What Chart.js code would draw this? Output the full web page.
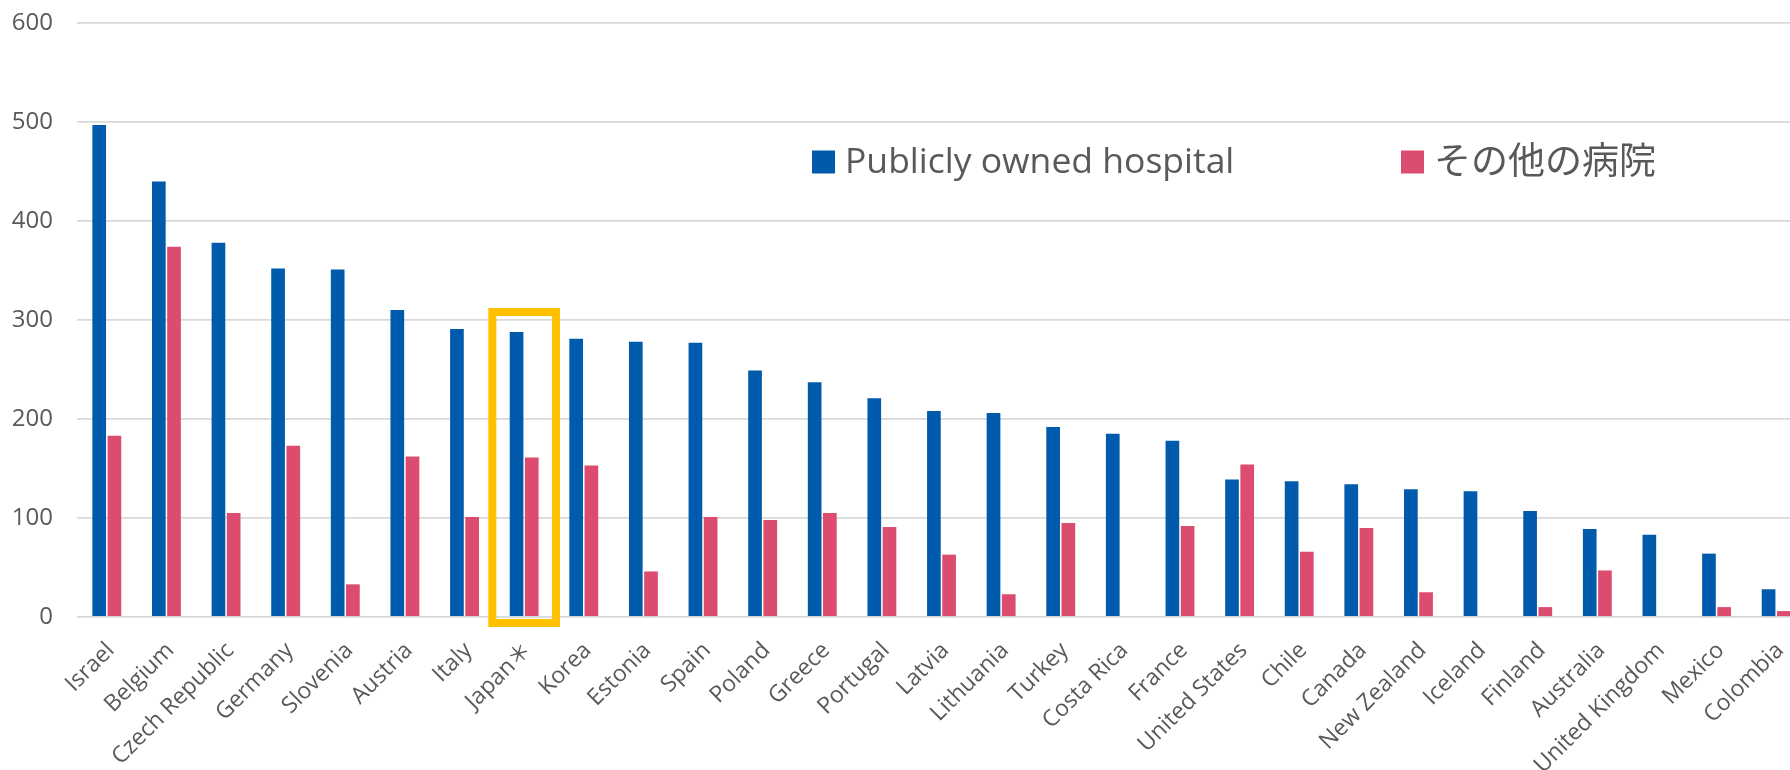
<!DOCTYPE html>
<html>
<head>
<meta charset="utf-8">
<script src="https://cdn.jsdelivr.net/npm/chart.js@4.4.1/dist/chart.umd.min.js"></script>
<style>
  html, body { margin: 0; padding: 0; background: #fff; overflow: hidden; }
  #wrap { width: 1806px; height: 770px; }
</style>
</head>
<body>
<div id="wrap"><canvas id="myChart"></canvas></div>
<script>
// hospital data
const countries = ['Israel', 'Belgium', 'Czech Republic', 'Germany', 'Slovenia', 'Austria', 'Italy', 'Japan＊',
  'Korea', 'Estonia', 'Spain', 'Poland', 'Greece', 'Portugal', 'Latvia', 'Lithuania', 'Turkey', 'Costa Rica',
  'France', 'United States', 'Chile', 'Canada', 'New Zealand', 'Iceland', 'Finland', 'Australia',
  'United Kingdom', 'Mexico', 'Colombia'];
const publicHospital = [497, 440, 378, 352, 351, 310, 291, 288, 281, 278, 277, 249, 237, 221, 208, 206,
  192, 185, 178, 139, 137, 134, 129, 127, 107, 89, 83, 64, 28];
const otherHospital = [183, 374, 105, 173, 33, 162, 101, 161, 153, 46, 101, 98, 105, 91, 63, 23,
  95, null, 92, 154, 66, 90, 25, null, 10, 47, null, 10, 6];
const seriesNames = ['Publicly owned hospital', 'その他の病院'];
const yTicks = [0, 100, 200, 300, 400, 500, 600];
const highlightIndex = 7;     // Japan
const highlightTop = 308;     // top of the yellow frame, in data units

const FONT = "'Open Sans', 'Noto Sans CJK JP', sans-serif";
const BLUE = '#005BAC';
const RED = '#DC4C6E';

// legend drawn inside the plot area
const plotLegend = {
    id: 'plotLegend',
    afterDraw(chart) {
        const ctx = chart.ctx;
        const xs = [812, 1401];     // left edge of each swatch
        const sizes = [35.5, 37];   // font size per item
        const yMid = 162;
        ctx.save();
        ctx.textBaseline = 'middle';
        ctx.textAlign = 'left';
        chart.data.datasets.forEach((ds, i) => {
            ctx.fillStyle = ds.backgroundColor;
            ctx.fillRect(xs[i], yMid - 11.5, 23, 23);
            ctx.font = sizes[i] + 'px ' + FONT;
            ctx.fillStyle = '#595959';
            ctx.fillText(ds.label, xs[i] + 33, yMid + 1);
        });
        ctx.restore();
    }
};

// yellow frame around Japan
const highlightBox = {
    id: 'highlightBox',
    afterDatasetsDraw(chart) {
        const ctx = chart.ctx;
        const x = chart.scales.x, y = chart.scales.y;
        const cx = x.getPixelForValue(highlightIndex);
        const half = (x.getPixelForValue(1) - x.getPixelForValue(0)) / 2 + 2;
        const top = y.getPixelForValue(highlightTop);
        const bottom = y.getPixelForValue(0) + 6;
        ctx.save();
        ctx.strokeStyle = '#FFC000';
        ctx.lineWidth = 8;
        ctx.strokeRect(cx - half, top, half * 2, bottom - top);
        ctx.restore();
    }
};

const ctx = document.getElementById('myChart');
new Chart(ctx, {
    type: 'bar',
    data: {
        labels: countries,
        datasets: [{
            label: seriesNames[0],
            data: publicHospital,
            backgroundColor: BLUE,
            categoryPercentage: 0.51,
            barPercentage: 0.9
        },
        {
            label: seriesNames[1],
            data: otherHospital,
            backgroundColor: RED,
            categoryPercentage: 0.51,
            barPercentage: 0.9
        }]
    },
    options: {
        responsive: true,
        maintainAspectRatio: false,
        animation: false,
        layout: { padding: { top: 23, left: 0, right: 0, bottom: 0 } },
        scales: {
            x: {
                grid: { display: false, drawTicks: false },
                border: { display: false },
                ticks: {
                    autoSkip: false,
                    maxRotation: 45,
                    minRotation: 45,
                    padding: 20,
                    labelOffset: 4,
                    color: '#595959',
                    font: { family: FONT, size: 23 }
                },
                afterFit: (scale) => {
                    scale.height = 153;
                    scale.paddingLeft = 0;    // plot runs to the right edge, last group is cut off
                    scale.paddingRight = 0;
                }
            },
            y: {
                min: 0,
                max: 600,
                grid: { color: '#d9d9d9', lineWidth: 1.8, drawTicks: false },
                border: { display: false },
                afterBuildTicks: (scale) => { scale.ticks = yTicks.map(v => ({ value: v })); },
                ticks: {
                    padding: 24,
                    color: '#595959',
                    font: { family: FONT, size: 24 }
                },
                afterFit: (scale) => {
                    scale.width = 77;
                    scale.paddingTop = 0;   // keep the top of the plot where layout.padding puts it
                }
            }
        },
        plugins: {
            legend: { display: false },
            tooltip: { enabled: false }
        }
    },
    plugins: [plotLegend, highlightBox]
});
</script>
</body>
</html>
